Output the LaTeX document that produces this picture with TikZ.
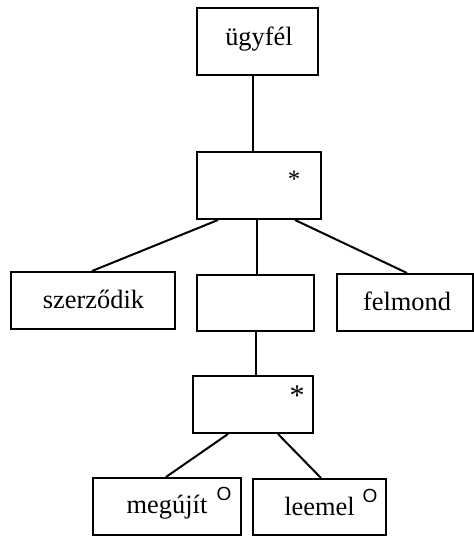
\documentclass[tikz,border=0pt]{standalone}
\usepackage{fontspec}
\setmainfont{Liberation Serif}
\newfontfamily\supfont{Liberation Sans}
\begin{document}
\begin{tikzpicture}[x=0.5pt,y=-0.5pt,
  box/.style={draw=black,line width=1pt,inner sep=0pt,fill=white},
  lbl/.style={inner sep=0pt,anchor=base,font=\fontsize{13.2}{15}\selectfont},
  star/.style={inner sep=0pt,anchor=base},
  sup/.style={inner sep=0pt,anchor=base,font=\supfont\fontsize{9.5}{11}\selectfont},
  conn/.style={line width=1pt}]
\useasboundingbox (0,0) rectangle (474,536);
% boxes
\node[box,minimum width=60.5pt,minimum height=33.5pt] (b1) at (257.5,41.5) {};
\node[box,minimum width=62pt,minimum height=33.5pt] (b2) at (259,185.5) {};
\node[box,minimum width=82pt,minimum height=28.5pt] (b3) at (93,300.5) {};
\node[box,minimum width=58.5pt,minimum height=28pt] (b4) at (255.5,303) {};
\node[box,minimum width=68pt,minimum height=28.5pt] (b5) at (405,302.5) {};
\node[box,minimum width=60pt,minimum height=28.5pt] (b6) at (253,404.5) {};
\node[box,minimum width=74pt,minimum height=28.5pt] (b7) at (167,506.5) {};
\node[box,minimum width=66.5pt,minimum height=28pt] (b8) at (319.5,507) {};
% labels
\node[lbl] (t1) at (259,45) {ügyfél};
\node[lbl] (t3) at (93.5,308) {szerződik};
\node[lbl] (t5) at (407,310) {felmond};
\node[lbl] (t7) at (167,513) {megújít};
\node[lbl] (t8) at (319.5,515) {leemel};
\node[star,font=\fontsize{12.5}{15}\selectfont] (s2) at (294,187) {*};
\node[star,font=\fontsize{15}{17}\selectfont] (s6) at (297,405) {*};
\node[sup] (o7) at (224,500) {O};
\node[sup] (o8) at (370,502) {O};
% connectors
\draw[conn] ([xshift=-2.25pt]b1.south) -- ([xshift=-3pt]b2.north);
\draw[conn] ([xshift=-20.5pt]b2.south) -- ([xshift=-0.5pt]b3.north);
\draw[conn] ([xshift=-1pt]b2.south) -- ([xshift=0.75pt]b4.north);
\draw[conn] ([xshift=18pt]b2.south) -- ([xshift=1pt]b5.north);
\draw[conn] ([xshift=0.25pt]b4.south) -- ([xshift=1.5pt]b6.north);
\draw[conn] ([xshift=-12.5pt]b6.south) -- ([xshift=-0.5pt]b7.north);
\draw[conn] ([xshift=12.5pt]b6.south) -- ([xshift=0.75pt]b8.north);
\end{tikzpicture}
\end{document}
